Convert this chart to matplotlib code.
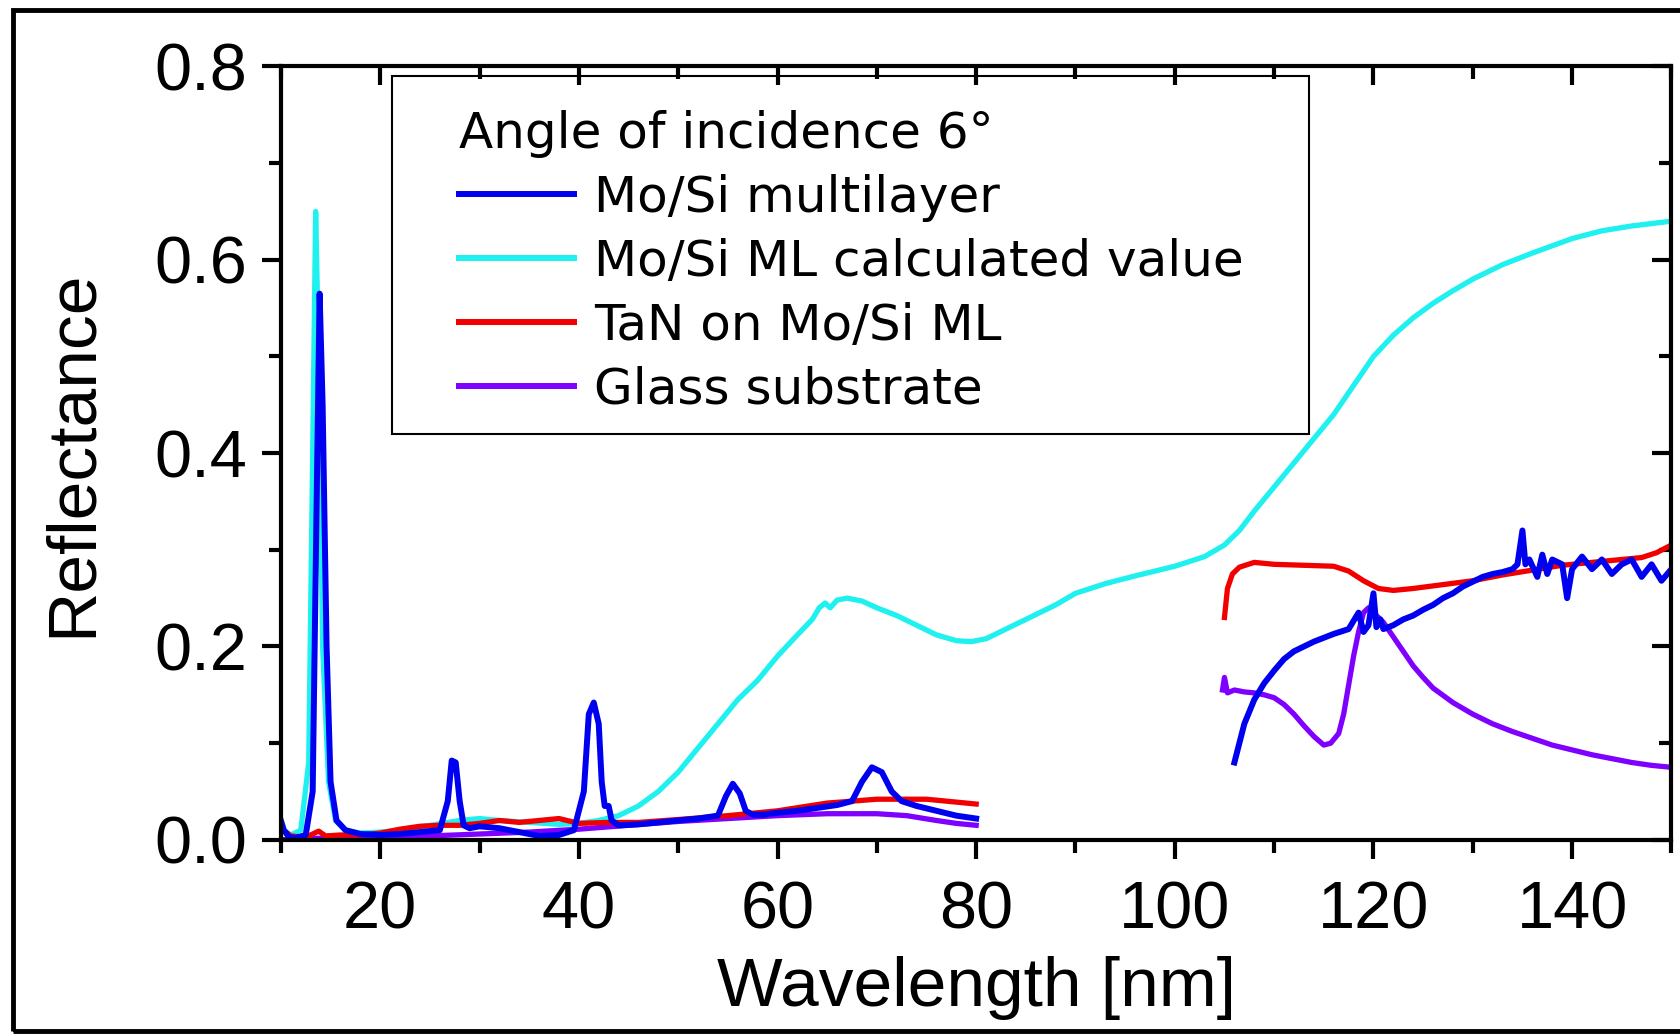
import matplotlib
matplotlib.use("Agg")
import matplotlib.pyplot as plt
from matplotlib.patches import Rectangle
from matplotlib.ticker import MultipleLocator, FormatStrFormatter

plt.rcParams['font.family'] = ['Liberation Sans', 'DejaVu Sans']

# Mo/Si multilayer (measured), two scans
mosi_x1 = [10, 10.3, 10.8, 11.5, 12.5, 13.2, 13.6, 13.9, 14.2, 14.6, 15.0, 15.6, 16.5, 18, 20, 22, 24, 26,
           26.8, 27.2, 27.6, 28.0, 28.4, 29, 30, 32, 34, 36, 38, 39.5, 40.5, 41.0, 41.5, 42.0, 42.3, 42.6,
           43.0, 43.3, 44, 46, 48, 50, 52, 54, 54.8, 55.5, 56.2, 56.8, 57.5, 58.5, 60, 62, 64, 66, 67.5,
           68.5, 69.5, 70.5, 71.5, 72.5, 74, 76, 78, 80]
mosi_y1 = [0.02, 0.01, 0.003, 0.002, 0.005, 0.05, 0.35, 0.565, 0.45, 0.2, 0.06, 0.02, 0.01, 0.006, 0.005,
           0.006, 0.008, 0.01, 0.04, 0.082, 0.08, 0.04, 0.015, 0.012, 0.014, 0.012, 0.008, 0.004, 0.005,
           0.01, 0.05, 0.13, 0.142, 0.12, 0.06, 0.035, 0.035, 0.02, 0.015, 0.016, 0.018, 0.02, 0.022, 0.025,
           0.045, 0.058, 0.048, 0.03, 0.026, 0.026, 0.028, 0.03, 0.033, 0.036, 0.04, 0.06, 0.075, 0.07,
           0.05, 0.04, 0.035, 0.03, 0.025, 0.022]
mosi_x2 = [106, 106.5, 107, 108, 109, 110, 111, 112, 114, 116, 117.5, 118.5, 119, 119.5, 120, 120.3, 120.7,
           121, 122, 123, 124, 125, 126, 127, 128, 129, 130, 131, 132, 133, 134, 134.5, 135, 135.3, 135.7,
           136.5, 137, 137.5, 138, 139, 139.5, 140, 141, 142, 143, 144, 145, 146, 147, 148, 149, 150]
mosi_y2 = [0.08, 0.1, 0.12, 0.145, 0.162, 0.175, 0.187, 0.195, 0.205, 0.213, 0.218, 0.235, 0.215, 0.222,
           0.255, 0.22, 0.228, 0.218, 0.222, 0.228, 0.232, 0.238, 0.243, 0.25, 0.255, 0.262, 0.267, 0.272,
           0.275, 0.277, 0.28, 0.285, 0.32, 0.285, 0.29, 0.272, 0.295, 0.275, 0.29, 0.285, 0.25, 0.28,
           0.293, 0.28, 0.29, 0.275, 0.285, 0.29, 0.272, 0.285, 0.268, 0.28]

# Mo/Si ML calculated value
calc_x = [10, 11, 12, 12.8, 13.2, 13.5, 13.8, 14.2, 14.8, 15.5, 16.5, 18, 20, 22, 25, 28, 30, 32, 35, 38,
          40, 42, 44, 46, 48, 50, 52, 54, 56, 58, 60, 62, 63.5, 64.2, 64.8, 65.3, 66, 67, 68.5, 70, 72,
          74, 76, 78, 79.5, 81, 83, 85, 88, 90, 93, 96, 100, 103, 105, 106.5, 108, 110, 112, 114, 116,
          118, 120, 122, 124, 126, 128, 130, 133, 136, 140, 143, 146, 150]
calc_y = [0.012, 0.005, 0.01, 0.08, 0.4, 0.65, 0.5, 0.2, 0.06, 0.02, 0.01, 0.007, 0.008, 0.01, 0.015,
          0.02, 0.022, 0.02, 0.018, 0.016, 0.017, 0.02, 0.025, 0.035, 0.05, 0.07, 0.095, 0.12, 0.145,
          0.165, 0.19, 0.212, 0.228, 0.24, 0.245, 0.24, 0.248, 0.25, 0.247, 0.24, 0.232, 0.222, 0.212,
          0.206, 0.205, 0.208, 0.218, 0.228, 0.243, 0.255, 0.265, 0.273, 0.283, 0.293, 0.305, 0.32, 0.34,
          0.365, 0.39, 0.415, 0.44, 0.47, 0.5, 0.522, 0.54, 0.555, 0.568, 0.58, 0.595, 0.607, 0.622,
          0.63, 0.635, 0.64]

# TaN on Mo/Si ML
tan_x1 = [10, 11, 12, 13, 13.8, 14.5, 16, 18, 20, 22, 24, 26, 28, 30, 32, 34, 36, 38, 40, 43, 46, 50,
          55, 60, 65, 70, 75, 80]
tan_y1 = [0.012, 0.004, 0.003, 0.005, 0.009, 0.004, 0.005, 0.005, 0.007, 0.011, 0.014, 0.015, 0.015,
          0.017, 0.02, 0.018, 0.02, 0.022, 0.017, 0.018, 0.018, 0.021, 0.025, 0.03, 0.038, 0.042, 0.042,
          0.037]
tan_x2 = [105, 105.3, 105.8, 106.5, 108, 110, 113, 116, 117.5, 119, 120.5, 122, 124, 127, 130, 133, 136,
          139, 142, 145, 147, 148.5, 150]
tan_y2 = [0.23, 0.26, 0.275, 0.282, 0.287, 0.285, 0.284, 0.283, 0.278, 0.268, 0.26, 0.258, 0.26, 0.264,
          0.268, 0.274, 0.279, 0.284, 0.287, 0.29, 0.292, 0.297, 0.305]

# Glass substrate
glass_x1 = [10, 12, 15, 20, 25, 30, 35, 40, 45, 50, 55, 60, 65, 70, 73, 76, 78, 80]
glass_y1 = [0.0, 0.001, 0.002, 0.003, 0.004, 0.006, 0.008, 0.011, 0.015, 0.019, 0.022, 0.025, 0.027,
            0.027, 0.025, 0.02, 0.017, 0.015]
glass_x2 = [104.8, 105, 105.3, 106, 107, 108, 109, 110, 111, 112, 113, 114, 115, 115.7, 116.5, 117, 117.5,
            118, 118.5, 119, 119.5, 120, 121, 122, 123, 124, 125, 126, 128, 130, 132, 134, 136, 138, 140,
            142, 144, 146, 148, 150]
glass_y2 = [0.155, 0.168, 0.152, 0.155, 0.153, 0.152, 0.15, 0.147, 0.14, 0.13, 0.118, 0.107, 0.098, 0.1,
            0.11, 0.13, 0.16, 0.19, 0.215, 0.235, 0.24, 0.235, 0.225, 0.21, 0.195, 0.18, 0.168, 0.157,
            0.142, 0.13, 0.12, 0.112, 0.105, 0.098, 0.093, 0.088, 0.084, 0.08, 0.077, 0.075]

c_blue = '#0000f0'
c_cyan = '#1ff0f0'
c_red = '#f20000'
c_purple = '#7f00ff'

fig = plt.figure(figsize=(16.81, 10.34), dpi=100)
ax = fig.add_axes([0.1671, 0.1878, 0.8272, 0.7479])

h_calc, = ax.plot(calc_x, calc_y, color=c_cyan, lw=3.8, label='Mo/Si ML calculated value')
h_glass, = ax.plot(glass_x1, glass_y1, color=c_purple, lw=3.8, label='Glass substrate')
ax.plot(glass_x2, glass_y2, color=c_purple, lw=3.8)
h_tan, = ax.plot(tan_x1, tan_y1, color=c_red, lw=3.8, label='TaN on Mo/Si ML')
ax.plot(tan_x2, tan_y2, color=c_red, lw=3.8)
h_mosi, = ax.plot(mosi_x1, mosi_y1, color=c_blue, lw=4.3, label='Mo/Si multilayer')
ax.plot(mosi_x2, mosi_y2, color=c_blue, lw=4.3)

ax.set_xlim(10, 150)
ax.set_ylim(0, 0.8)
ax.xaxis.set_major_locator(MultipleLocator(20))
ax.xaxis.set_minor_locator(MultipleLocator(10))
ax.yaxis.set_major_locator(MultipleLocator(0.2))
ax.yaxis.set_minor_locator(MultipleLocator(0.1))
ax.yaxis.set_major_formatter(FormatStrFormatter('%.1f'))
ax.set_xticks([20, 40, 60, 80, 100, 120, 140])

for s in ax.spines.values():
    s.set_linewidth(3)
ax.tick_params(axis='both', which='major', direction='out', length=14, width=3, labelsize=48)
ax.tick_params(axis='x', which='major', pad=15)
ax.tick_params(axis='y', which='major', pad=10)
ax.tick_params(axis='both', which='minor', direction='out', length=9, width=3)

# inward ticks on top and right
ax_t = ax.secondary_xaxis('top')
ax_t.xaxis.set_major_locator(MultipleLocator(20))
ax_t.xaxis.set_minor_locator(MultipleLocator(10))
ax_t.tick_params(which='major', direction='in', length=14, width=3, labeltop=False)
ax_t.tick_params(which='minor', direction='in', length=9, width=3)
ax_r = ax.secondary_yaxis('right')
ax_r.yaxis.set_major_locator(MultipleLocator(0.2))
ax_r.yaxis.set_minor_locator(MultipleLocator(0.1))
ax_r.tick_params(which='major', direction='in', length=14, width=3, labelright=False)
ax_r.tick_params(which='minor', direction='in', length=9, width=3)

ax.set_xlabel('Wavelength [nm]', fontsize=50)
ax.set_ylabel('Reflectance', fontsize=50)
ax.xaxis.set_label_coords(0.5, -0.150)
ax.yaxis.set_label_coords(-0.127, 0.5)

leg = ax.legend(handles=[h_mosi, h_calc, h_tan, h_glass],
                title='Angle of incidence 6°', title_fontsize=36,
                prop={'family': 'DejaVu Sans', 'size': 36},
                loc='upper left', bbox_to_anchor=(0.128, 0.944), borderaxespad=0,
                handlelength=2.3, handletextpad=0.4, labelspacing=0.32,
                frameon=False, alignment='left', borderpad=0)
leg.get_title().set_family('DejaVu Sans')
for line in leg.get_lines():
    line.set_linewidth(4.3)
# legend frame
ax.add_patch(Rectangle((0.080, 0.525), 0.6596, 0.463, transform=ax.transAxes,
                       fill=False, edgecolor='black', linewidth=1.5, zorder=5))

# outer frame around the whole picture
fig.patches.append(Rectangle((0.0077, 0.003), 1.0, 0.987, transform=fig.transFigure,
                             fill=False, edgecolor='black', linewidth=3.5))

fig.savefig('out.png', dpi=100)
